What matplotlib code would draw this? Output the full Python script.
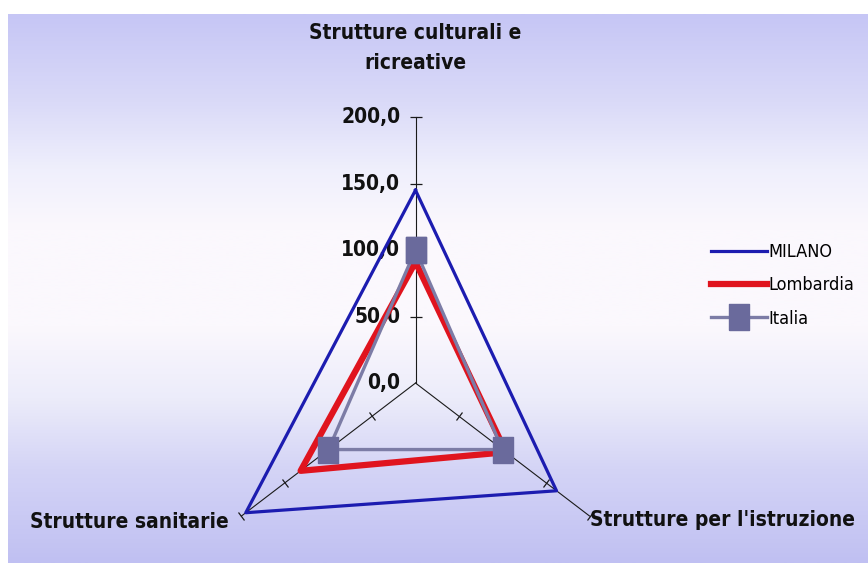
"""
Radar chart: indici strutture - Milano / Lombardia / Italia (Italia = 100).
"""

import numpy as np
import matplotlib
matplotlib.use("Agg")
import matplotlib.pyplot as plt
from matplotlib import font_manager
from matplotlib.colors import LinearSegmentedColormap
from matplotlib.markers import MarkerStyle
from matplotlib.transforms import Affine2D

# categories clockwise from the top, as in the original spreadsheet
categories = ["Strutture culturali e\nricreative", "Strutture per l'istruzione", "Strutture sanitarie"]
milano = [145.0, 162.0, 195.0]
lombardia = [91.0, 104.0, 132.0]
italia = [100.0, 100.0, 100.0]
r_ticks = [0, 50, 100, 150, 200]
r_tick_labels = ["0,0", "50,0", "100,0", "150,0", "200,0"]
r_max = 200

# the original text is horizontally squashed: use a narrow face if there is one
fonts = font_manager.fontManager.ttflist
names = {f.name for f in fonts}
if any(f.name == "DejaVu Sans" and f.stretch == "condensed" for f in fonts):
    FONT, STRETCH, SCALE = ["DejaVu Sans"], "condensed", 1.0
elif "Liberation Sans Narrow" in names:
    FONT, STRETCH, SCALE = ["Liberation Sans Narrow", "DejaVu Sans"], "normal", 1.05
else:
    FONT, STRETCH, SCALE = ["Roboto", "DejaVu Sans"], "normal", 1.0
plt.rcParams["font.family"] = FONT
plt.rcParams["font.stretch"] = STRETCH

fig = plt.figure(figsize=(8.68, 5.63), dpi=100, facecolor="white")

# gradient background (white strip at top and left, like the original export)
bg = fig.add_axes([8 / 868, 0, 860 / 868, 549 / 563])
bg.set_axis_off()
stops = [(0.0, "#c6c6f5"), (0.16, "#dadaf8"), (0.28, "#efeffc"), (0.39, "#fbf8fd"),
         (0.57, "#fbf8fd"), (0.70, "#ececfa"), (0.83, "#d4d4f6"), (1.0, "#c0c0f2")]
cmap = LinearSegmentedColormap.from_list("bg", stops)
bg.imshow(np.linspace(0, 1, 256).reshape(-1, 1), aspect="auto", cmap=cmap,
          extent=[0, 1, 0, 1], interpolation="bilinear")

# radar drawn in cartesian axes; the original is squashed horizontally
ax = fig.add_axes([0, 0, 1, 1])
ax.set_axis_off()
ax.patch.set_alpha(0)
ax.set_xlim(-413.4, 450.2)
ax.set_ylim(-135.3, 288.0)

theta = np.deg2rad([0, 120, 240])


def to_xy(vals):
    v = np.asarray(vals + vals[:1])
    t = np.append(theta, theta[0])
    return v * np.sin(t), v * np.cos(t)


# spokes and tick marks
for th in theta:
    ex, ey = r_max * np.sin(th), r_max * np.cos(th)
    ax.plot([0, ex], [0, ey], color="#1a1a1a", lw=0.8, zorder=2)
    p0 = ax.transData.transform((0, 0))
    p1 = ax.transData.transform((ex, ey))
    ang = np.degrees(np.arctan2(p1[1] - p0[1], p1[0] - p0[0]))
    mk = MarkerStyle("_", transform=Affine2D().rotate_deg(ang + 90))
    rr = np.array(r_ticks[1:], dtype=float)
    ax.plot(rr * np.sin(th), rr * np.cos(th), ls="none", marker=mk,
            ms=8, mew=0.9, color="#1a1a1a", zorder=2, clip_on=False)

# radial labels on the top spoke
for r, lab in zip(r_ticks, r_tick_labels):
    ax.annotate(lab, xy=(0, r), xytext=(-11, 0), textcoords="offset points",
                ha="right", va="center", fontsize=15 * SCALE, fontweight="bold",
                color="#111111")

# series
mx, my = to_xy(milano)
ax.plot(mx, my, color="#1c1cb0", lw=2.3, zorder=3, label="MILANO")
lx, ly = to_xy(lombardia)
ax.plot(lx, ly, color="#e0141e", lw=4.5, zorder=4, label="Lombardia")
rect = [(-0.37, -0.5), (0.37, -0.5), (0.37, 0.5), (-0.37, 0.5), (-0.37, -0.5)]
ix, iy = to_xy(italia)
ax.plot(ix, iy, color="#7c7ca6", lw=2.4, marker=rect, ms=19, mfc="#6a6a9c",
        mec="#6a6a9c", zorder=5, label="Italia")

# category labels
ax.annotate(categories[0], xy=(0, r_max), xytext=(0, 32), textcoords="offset points",
            ha="center", va="bottom", fontsize=15 * SCALE, fontweight="bold",
            linespacing=1.6, color="#111111")
ax.annotate(categories[1], xy=(r_max * np.sin(theta[1]), r_max * np.cos(theta[1])),
            xytext=(0, -3), textcoords="offset points", ha="left", va="center",
            fontsize=15 * SCALE, fontweight="bold", color="#111111")
ax.annotate(categories[2], xy=(r_max * np.sin(theta[2]), r_max * np.cos(theta[2])),
            xytext=(-9, -4), textcoords="offset points", ha="right", va="center",
            fontsize=15 * SCALE, fontweight="bold", color="#111111")

ax.legend(loc="upper left", bbox_to_anchor=(711 / 868, 1 - 243 / 563),
          bbox_transform=fig.transFigure, frameon=False, fontsize=13 * SCALE,
          handlelength=3.1, handletextpad=0.05, labelspacing=0.85,
          borderpad=0, borderaxespad=0)

fig.savefig("out.png", dpi=100, facecolor=fig.get_facecolor())
